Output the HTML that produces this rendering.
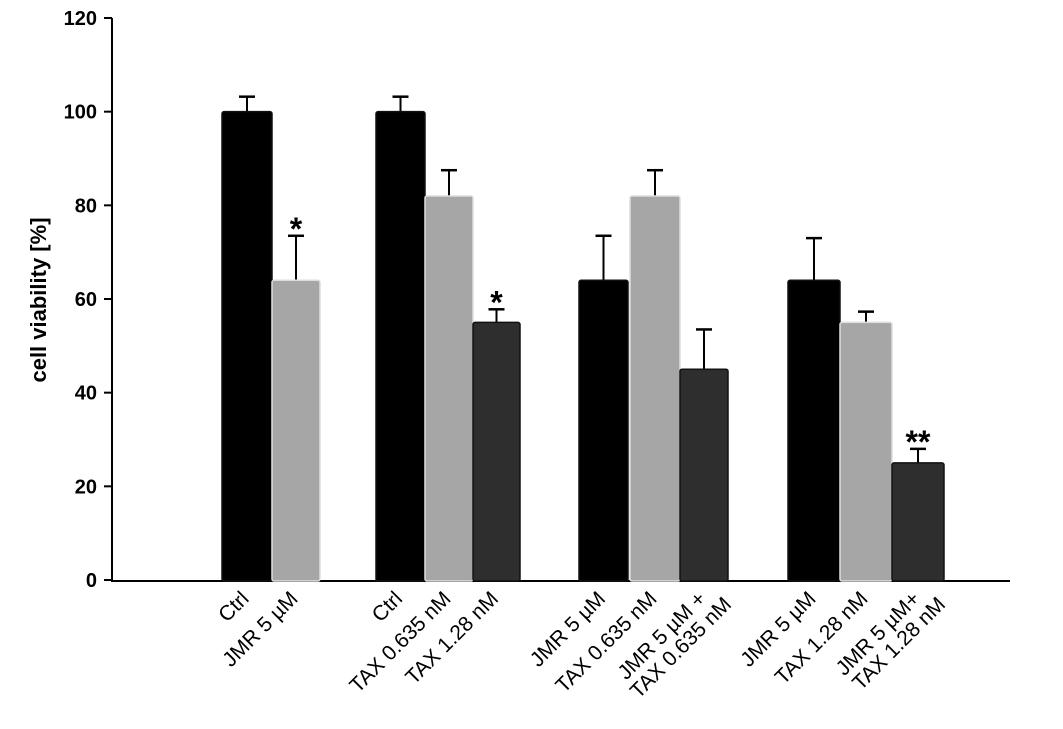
<!DOCTYPE html>
<html><head><meta charset="utf-8"><style>body{margin:0;background:#fff}svg{display:block;font-family:"Liberation Sans",Arial,sans-serif}</style></head>
<body>
<svg id="chart" width="1063" height="729" viewBox="0 0 1063 729"></svg>
<script>
const values = [100, 64, 100, 82, 55, 64, 82, 45, 64, 55, 25];
const errors = [3.2, 9.5, 3.2, 5.5, 2.8, 9.5, 5.5, 8.5, 9, 2.3, 3];
const labels = [["Ctrl"],["JMR 5 µM"],["Ctrl"],["TAX 0.635 nM"],["TAX 1.28 nM"],["JMR 5 µM"],["TAX 0.635 nM"],["JMR 5 µM +","TAX 0.635 nM"],["JMR 5 µM"],["TAX 1.28 nM"],["JMR 5 µM+","TAX 1.28 nM"]];
const stars = ["", "*", "", "", "*", "", "", "", "", "", "**"];
const kinds = [0,1,0,1,2,0,1,2,0,1,2];
const yTicks = [0,20,40,60,80,100,120];
const barLeft = [222,272,376,425,473,579,630,680,788,840,892];
const barW = [50,48,49,48,47,49,50,48,52,52,52];
const fills = ["#000","#a6a6a6","#2e2e2e"];
const NS="http://www.w3.org/2000/svg";
const svg=document.getElementById('chart');
const y=v=>580-v*(562/120);
function mk(t,a,p){const e=document.createElementNS(NS,t);for(const k in a)e.setAttribute(k,a[k]);(p||svg).appendChild(e);return e;}
let ax=mk('line',{x1:112,y1:18,x2:112,y2:581,stroke:'#000','stroke-width':2});


let bx=mk('line',{x1:111,y1:581,x2:1010,y2:581,stroke:'#000','stroke-width':2});


yTicks.forEach(t=>{
 const l=mk('line',{x1:104,x2:112,y1:y(t),y2:y(t),stroke:'#000','stroke-width':2});
 
 
 const tx=mk('text',{x:97,y:y(t)+7,'text-anchor':'end','font-size':20,'font-weight':'bold'});
 tx.textContent=t;
 
 
});
const yt=mk('text',{x:0,y:0,transform:'translate(46,300) rotate(-90)','text-anchor':'middle','font-size':22,'font-weight':'bold'});
yt.textContent='cell viability  [%]';


values.forEach((v,i)=>{
 const x0=barLeft[i],w=barW[i],cx=x0+w/2;
 const top=y(v+errors[i]);
 const e1=mk('line',{x1:cx,x2:cx,y1:y(v),y2:top,stroke:'#000','stroke-width':2});
 
 
 const e2=mk('line',{x1:cx-8,x2:cx+8,y1:top,y2:top,stroke:'#000','stroke-width':2.5});
 
 
 const r=mk('rect',{x:x0,y:y(v),width:w,height:581-y(v),fill:fills[kinds[i]],stroke:kinds[i]==1?'#ddd':'#111','stroke-width':1.5,rx:2});
 
 
 if(stars[i]){
  const s=mk('text',{x:cx,y:top+4,'text-anchor':'middle','font-size':32,'font-weight':'bold'});
  s.textContent=stars[i];
  
  
 }
 const g=mk('text',{transform:`translate(${cx+3},600) rotate(-45)`,'text-anchor':'end','font-size':21});
 
 
 labels[i].forEach((ln,j)=>{const ts=mk('tspan',{x:j*14,dy:j?22:0},g);ts.textContent=ln;});
});
</script>
</body></html>
